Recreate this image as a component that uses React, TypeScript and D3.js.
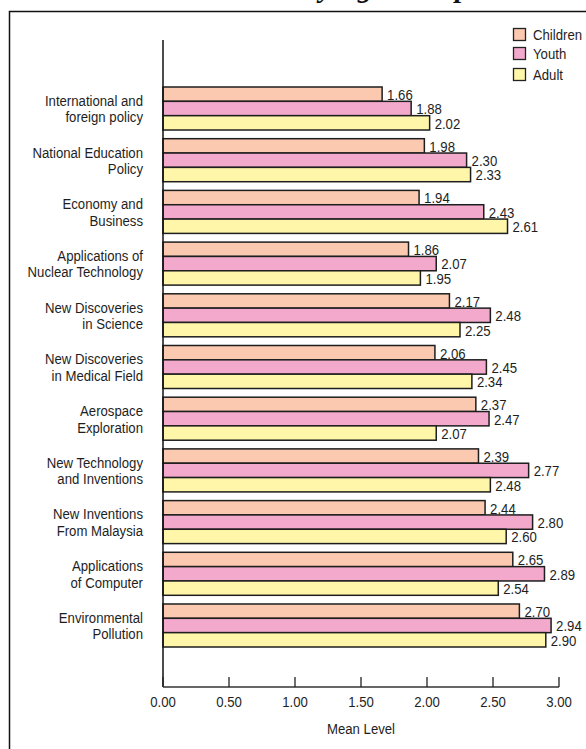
import React from "react";
import * as d3 from "d3";

const categories: string[][] = [
  ["International and", "foreign policy"],
  ["National Education", "Policy"],
  ["Economy and ", "Business"],
  ["Applications of", "Nuclear Technology"],
  ["New Discoveries", "in Science"],
  ["New Discoveries", "in Medical Field"],
  ["Aerospace", "Exploration"],
  ["New Technology", "and Inventions"],
  ["New Inventions", "From Malaysia"],
  ["Applications", "of Computer"],
  ["Environmental", "Pollution"],
];
const seriesNames = ["Children", "Youth", "Adult"];
const children = [1.66, 1.98, 1.94, 1.86, 2.17, 2.06, 2.37, 2.39, 2.44, 2.65, 2.7];
const youth = [1.88, 2.3, 2.43, 2.07, 2.48, 2.45, 2.47, 2.77, 2.8, 2.89, 2.94];
const adult = [2.02, 2.33, 2.61, 1.95, 2.25, 2.34, 2.07, 2.48, 2.6, 2.54, 2.9];
const xTicks = [0, 0.5, 1, 1.5, 2, 2.5, 3];
const colors = ["#fbc8b0", "#f2a9cc", "#fff6aa"];
const axisTitle = "Mean Level";
const titleText = "by Age Group";

const FONT = "'Liberation Sans', Arial, sans-serif";
const NARROW = 0.85;

function NText({
  x,
  y,
  anchor = "start",
  size = 15.5,
  children: content,
}: {
  x: number;
  y: number;
  anchor?: "start" | "middle" | "end";
  size?: number;
  children: React.ReactNode;
}) {
  return (
    <text
      transform={`translate(${x},${y}) scale(${NARROW},1)`}
      textAnchor={anchor}
      dominantBaseline="central"
      fontSize={size}
      fontFamily={FONT}
      fill="#1e1e1e"
    >
      {content}
    </text>
  );
}

export default function App() {
  const W = 586, H = 749;
  const x0 = 163, x1 = 559;
  const axisY = 687;
  const x = d3.scaleLinear().domain([0, 3]).range([x0, x1]);
  const y = d3
    .scaleBand<number>()
    .domain(d3.range(categories.length))
    .range([87, 647])
    .paddingInner(0.168)
    .paddingOuter(0);
  const series = [children, youth, adult];
  const inner = d3
    .scaleBand<number>()
    .domain([0, 1, 2])
    .range([0, y.bandwidth()]);

  return (
    <svg
      width={W}
      height={H}
      style={{ position: "absolute", left: 0, top: 0, background: "#fff" }}
    >
      <text
        x={305}
        y={-3}
        fontFamily="'Liberation Serif', 'DejaVu Serif', serif"
        fontWeight="bold"
        fontStyle="italic"
        fontSize={29}
        fill="#111"
      >
        {titleText}
      </text>
      <path d={`M9.5,${H + 5} V11.5 H${W + 5}`} fill="none" stroke="#111" strokeWidth={1.5} />

      {/* legend */}
      {seriesNames.map((name, i) => {
        const ly = [28, 47, 68][i];
        return (
          <g key={name}>
            <rect x={513.5} y={ly + 0.5} width={12} height={12} fill={colors[i]} stroke="#222" strokeWidth={1.3} />
            <NText x={533} y={ly + 6.5}>{name}</NText>
          </g>
        );
      })}

      {/* bars */}
      {categories.map((cat, ci) => {
        const gy = y(ci)!;
        const cy = gy + y.bandwidth() / 2;
        return (
          <g key={ci}>
            <NText x={143} y={cy - 8} anchor="end">{cat[0]}</NText>
            <NText x={143} y={cy + 8.5} anchor="end">{cat[1]}</NText>
            {series.map((vals, si) => {
              const by = gy + inner(si)!;
              const bh = inner.bandwidth();
              const v = vals[ci];
              return (
                <g key={si}>
                  <rect
                    x={x(0)}
                    y={by}
                    width={x(v) - x(0)}
                    height={bh}
                    fill={colors[si]}
                    stroke="#1e1e1e"
                    strokeWidth={1.5}
                  />
                  <NText x={x(v) + 5} y={by + bh / 2 + 0.5}>{v.toFixed(2)}</NText>
                </g>
              );
            })}
          </g>
        );
      })}

      {/* axes */}
      <line x1={x0} x2={x0} y1={40} y2={axisY} stroke="#111" strokeWidth={1.5} />
      <line x1={x0} x2={x1} y1={axisY} y2={axisY} stroke="#333" strokeWidth={1.5} />
      {xTicks.map((t) => (
        <g key={t}>
          <line x1={x(t)} x2={x(t)} y1={axisY} y2={axisY - 10} stroke="#222" strokeWidth={1.3} />
          <NText x={x(t)} y={702} anchor="middle">{t.toFixed(2)}</NText>
        </g>
      ))}
      <NText x={x(1.5)} y={729} anchor="middle">{axisTitle}</NText>
    </svg>
  );
}
